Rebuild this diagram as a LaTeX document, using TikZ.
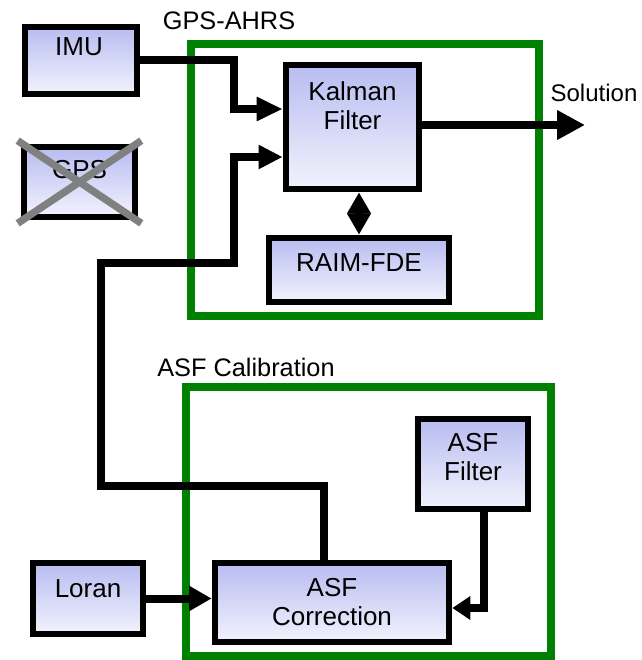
\documentclass[tikz,border=0pt]{standalone}
\usepackage{fontspec}
\setmainfont{Liberation Sans}
\usetikzlibrary{arrows.meta}

\definecolor{boxtop}{RGB}{184,188,240}
\definecolor{boxbot}{RGB}{242,243,253}
\definecolor{framegreen}{RGB}{0,128,0}
\definecolor{crossgray}{RGB}{128,128,128}

\tikzset{every picture/.style={line width=0.75pt}}
\tikzset{
  blockbox/.style={draw=black, line width=5pt, top color=boxtop, bottom color=boxbot, inner sep=0pt},
  blocklbl/.style={font=\fontsize{19.5}{22}\selectfont, align=center, inner sep=0.75pt},
  grouplbl/.style={font=\fontsize{19}{22}\selectfont, inner sep=0.75pt},
  groupframe/.style={draw=framegreen, line width=6pt},
  wire/.style={draw=black, line width=6pt},
  wirearrow/.style={wire, -{Triangle[length=18pt,width=17pt]}},
}

\begin{document}
\begin{tikzpicture}[x=0.75pt,y=0.75pt,yscale=-1,xscale=1]
\useasboundingbox (0,0) rectangle (642,660);

%Shape: Rectangle [group frames]
\draw [groupframe] (191,44) rectangle (539,316) ;
\draw [groupframe] (186,387) rectangle (551,656) ;

%Shape: Rectangle [blocks]
\node [blockbox, minimum width=84pt, minimum height=50.25pt] (imu) at (81,60.5) {};
\node [blockbox, minimum width=83.25pt, minimum height=52.5pt] (gps) at (79.5,182) {};
\node [blockbox, minimum width=99.75pt, minimum height=93pt] (kf) at (352.5,127) {};
\node [blockbox, minimum width=135pt, minimum height=48pt] (raim) at (359,270) {};
\node [blockbox, minimum width=82.5pt, minimum height=67.5pt] (asff) at (473,464) {};
\node [blockbox, minimum width=175.5pt, minimum height=59.25pt] (asfc) at (332,602.5) {};
\node [blockbox, minimum width=82.5pt, minimum height=53.25pt] (loran) at (88,598.5) {};

% Text Node
\node [blocklbl] (imutxt) at (79,47) {IMU};
% Text Node
\node [blocklbl] (gpstxt) at (79.5,170) {GPS};
% Text Node
\node [blocklbl] (kftxt) at (352.5,106) {Kalman\\Filter};
% Text Node
\node [blocklbl] (raimtxt) at (359,263) {RAIM-FDE};
% Text Node
\node [blocklbl] (asfftxt) at (473,457) {ASF\\Filter};
% Text Node
\node [blocklbl] (asfctxt) at (332,602) {ASF\\Correction};
% Text Node
\node [blocklbl] (lorantxt) at (88,589) {Loran};
% Text Node
\node [grouplbl] (ahrstxt) at (229,21) {GPS-AHRS};
% Text Node
\node [grouplbl] (caltxt) at (246,367) {ASF Calibration};
% Text Node
\node [grouplbl, font=\fontsize{18}{22}\selectfont] (soltxt) at (594,93) {Solution};

%Straight Lines [GPS crossed out]
\draw [crossgray, line width=5.5pt] ([shift={(-3,-3)}]gps.north west) -- ([shift={(3,3)}]gps.south east) ;
\draw [crossgray, line width=5.5pt] ([shift={(-3,3)}]gps.south west) -- ([shift={(3,-3)}]gps.north east) ;

%Bend points
\coordinate (imubend) at (233.5,109) ;
\coordinate (loopa) at (324,486) ;
\coordinate (loopb) at (101,262.5) ;
\coordinate (loopc) at (233.5,157) ;
\coordinate (asfbend) at (484,608) ;
\coordinate (solend) at (585,125) ;

%Straight Lines [IMU to filter]
\draw [wirearrow, -{Triangle[length=19.5pt,width=17pt]}] (imu.east) -| (imubend) -- (imubend -| kf.west) ;
%Straight Lines [correction loop to filter]
\draw [wirearrow] (asfc.north -| loopa) -- (loopa) -| (loopb) -| (loopc) -- (loopc -| kf.west) ;
%Straight Lines [solution]
\draw [wire, -{Triangle[length=21pt,width=21pt]}] (kf.east |- solend) -- (solend) ;
%Straight Lines [filter and RAIM]
\draw [wire, {Triangle[length=16pt,width=17pt]}-{Triangle[length=16pt,width=17pt]}] (raim.north |- kf.south) -- (raim.north) ;
%Straight Lines [ASF filter to correction]
\draw [wirearrow, -{Triangle[length=13.5pt,width=17pt]}] (asfbend |- asff.south) -- (asfbend) -- (asfbend -| asfc.east) ;
%Straight Lines [Loran to correction]
\draw [wirearrow, -{Triangle[length=17pt,width=18pt]}] (loran.east) -- (loran.east -| asfc.west) ;

\end{tikzpicture}
\end{document}
